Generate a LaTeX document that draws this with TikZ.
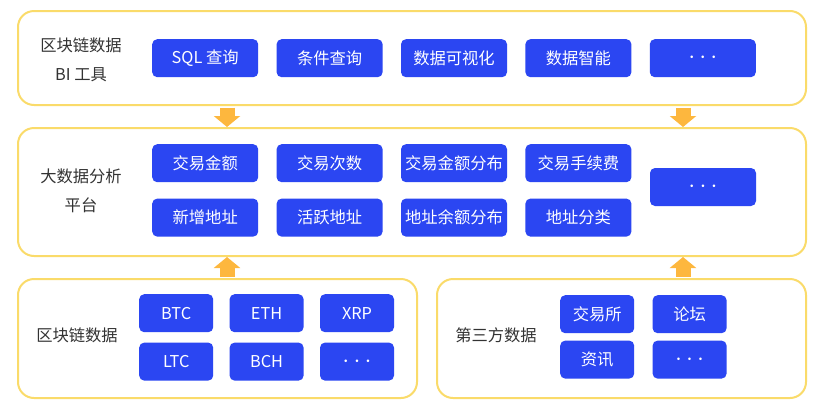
\documentclass[tikz,border=0pt]{standalone}
\usepackage{fontspec}
\setmainfont{Noto Sans CJK SC}
\usetikzlibrary{positioning,arrows.meta}
\definecolor{panelyellow}{HTML}{FADB6A}
\definecolor{arrowgold}{HTML}{FDB73E}
\definecolor{btnblue}{HTML}{2B46F2}
\definecolor{labelgray}{HTML}{333333}
\newcommand{\etcdots}{{\fontsize{24}{24}\selectfont$\cdots$}}

\begin{document}
\begin{tikzpicture}[x=1pt, y=-1pt,
  panel/.style={draw=panelyellow, line width=2pt, fill=white, rounded corners=16pt, anchor=north west, inner sep=0pt},
  btn/.style={fill=btnblue, rounded corners=5pt, text=white, minimum width=106pt, minimum height=38pt, inner sep=0pt, font=\fontsize{16.3}{18}\selectfont},
  chip/.style={btn, minimum width=74pt},
  tag/.style={text=labelgray, align=center, font=\fontsize{16.3}{29}\selectfont},
  uparrow/.style={-{Triangle[width=26pt,length=11pt]}, line width=15pt, arrowgold, shorten <=1.5pt}
]
\useasboundingbox (0,0) rectangle (827,413);

% layers
\node[panel, minimum width=788pt, minimum height=94pt] (bi) at (17,10) {};
\node[panel, minimum width=788pt, minimum height=128pt] (plat) at (17,127) {};
\node[panel, minimum width=399pt, minimum height=119pt] (chain) at (17,278) {};
\node[panel, minimum width=369pt, minimum height=119pt] (third) at (436,278) {};

% BI tools
\node[tag] (bilabel) at (81,60) {区块链数据\\BI 工具};
\node[btn, anchor=north west] (sql) at (152,39) {SQL 查询};
\node[btn, right=18pt of sql] (cond) {条件查询};
\node[btn, right=18pt of cond] (vis) {数据可视化};
\node[btn, right=18pt of vis] (smart) {数据智能};
\node[btn, right=18pt of smart] (more1) {\etcdots};

% analysis platform
\node[tag] (platlabel) at (81,191) {大数据分析\\平台};
\node[btn, anchor=north west] (amt) at (152,144) {交易金额};
\node[btn, right=18pt of amt] (cnt) {交易次数};
\node[btn, right=18pt of cnt] (dist) {交易金额分布};
\node[btn, right=18pt of dist] (fee) {交易手续费};
\node[btn, below=16pt of amt] (newaddr) {新增地址};
\node[btn, below=16pt of cnt] (active) {活跃地址};
\node[btn, below=16pt of dist] (balance) {地址余额分布};
\node[btn, below=16pt of fee] (addrcls) {地址分类};
\node[btn] (more2) at (703,187) {\etcdots};

% chain data
\node[tag] (chainlabel) at (77,335) {区块链数据};
\node[chip, anchor=north west] (btc) at (139,294) {BTC};
\node[chip, right=16pt of btc] (eth) {ETH};
\node[chip, right=16pt of eth] (xrp) {XRP};
\node[chip, below=10pt of btc] (ltc) {LTC};
\node[chip, below=10pt of eth] (bch) {BCH};
\node[chip, below=10pt of xrp] (more3) {\etcdots};

% third party data
\node[tag] (thirdlabel) at (496,335) {第三方数据};
\node[chip, anchor=north west] (exch) at (560,295) {交易所};
\node[chip, right=18pt of exch] (forum) {论坛};
\node[chip, below=7pt of exch] (news) {资讯};
\node[chip, below=7pt of forum] (more4) {\etcdots};

% flow arrows
\coordinate (lane1) at (227,0);
\coordinate (lane2) at (683,0);
\draw[uparrow] (bi.south -| lane1) -- (plat.north -| lane1);
\draw[uparrow] (bi.south -| lane2) -- (plat.north -| lane2);
\draw[uparrow] (chain.north -| lane1) -- (plat.south -| lane1);
\draw[uparrow] (third.north -| lane2) -- (plat.south -| lane2);
\end{tikzpicture}
\end{document}
